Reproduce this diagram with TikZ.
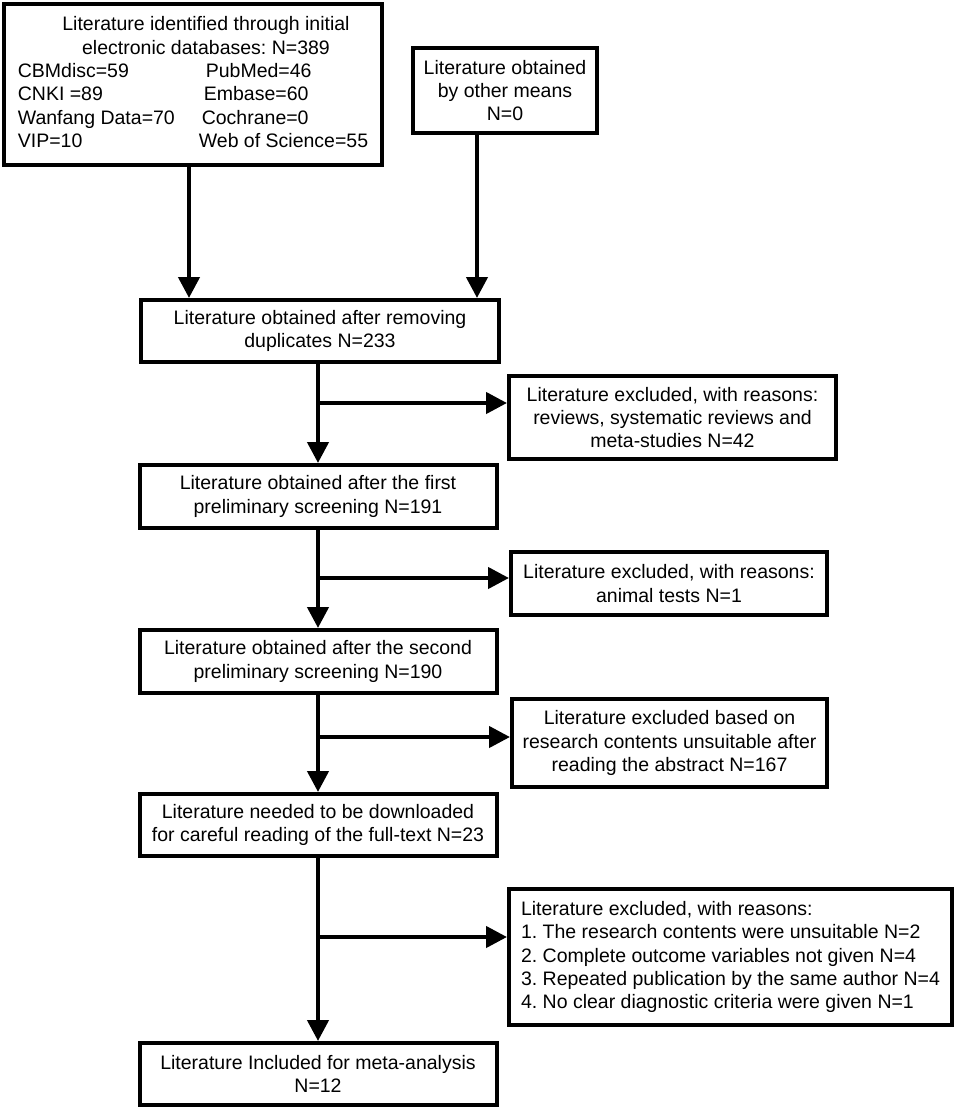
\documentclass[tikz,border=0pt]{standalone}
\usepackage{fontspec}
\setmainfont{Liberation Sans}
\usetikzlibrary{arrows.meta}
\frenchspacing
\begin{document}
\begin{tikzpicture}[x=1pt,y=-1pt,>={Triangle[length=21pt,width=21pt]},
  every node/.style={font=\fontsize{19.5}{23.3}\selectfont},
  box/.style={draw,line width=4pt,inner sep=0pt,align=center},
  arr/.style={->,line width=4.3pt}]
 \useasboundingbox (0,0) rectangle (957,1111);
 % sources
 \node[box,minimum width=378pt,minimum height=161pt] (db) at (193,84.5) {%
   \begin{tabular}{@{}p{181pt}@{}l@{}}
   \multicolumn{2}{@{}c@{}}{\hspace*{26pt}Literature identified through initial}\\
   \multicolumn{2}{@{}c@{}}{\hspace*{26pt}electronic databases: N=389}\\
   CBMdisc=59 & \hspace*{7pt}PubMed=46\\
   CNKI =89 & \hspace*{5pt}Embase=60\\
   Wanfang Data=70 & \hspace*{3pt}Cochrane=0\\
   VIP=10 & Web of Science=55
   \end{tabular}};
 \node[box,minimum width=184pt,minimum height=85pt] (other) at (505,90.5) {Literature obtained\\by other means\\N=0};
 % main column
 \node[box,minimum width=358pt,minimum height=62pt] (dup) at (320,331) {Literature obtained after removing\\duplicates N=233};
 \node[box,minimum width=357pt,minimum height=63pt] (scr1) at (318,496.5) {Literature obtained after the first\\preliminary screening N=191};
 \node[box,minimum width=357pt,minimum height=63pt] (scr2) at (318,661.5) {Literature obtained after the second\\preliminary screening N=190};
 \node[box,minimum width=357pt,minimum height=62pt] (full) at (318,825) {Literature needed to be downloaded\\for careful reading of the full-text N=23};
 \node[box,minimum width=357pt,minimum height=62pt] (incl) at (318,1074) {Literature Included for meta-analysis\\N=12};
 % exclusions
 \node[box,minimum width=327pt,minimum height=83pt] (ex1) at (672.5,417.5) {Literature excluded, with reasons:\\reviews, systematic reviews and\\meta-studies N=42};
 \node[box,minimum width=316pt,minimum height=63pt] (ex2) at (669,583.5) {Literature excluded, with reasons:\\animal tests N=1};
 \node[box,minimum width=315pt,minimum height=88pt] (ex3) at (669.5,743) {Literature excluded based on\\research contents unsuitable after\\reading the abstract N=167};
 \node[box,align=left,minimum width=443pt,minimum height=136pt] (ex4) at (730.5,957) {Literature excluded, with reasons:\\1. The research contents were unsuitable N=2\\2. Complete outcome variables not given N=4\\3. Repeated publication by the same author N=4\\4. No clear diagnostic criteria were given N=1};
 % arrows
 \coordinate (d1) at (189,0);
 \coordinate (o1) at (477,0);
 \draw[arr] (db.south -| d1) -- (d1 |- dup.north);
 \draw[arr] (other.south -| o1) -- (o1 |- dup.north);
 \foreach \a/\b in {dup/scr1,scr1/scr2,scr2/full,full/incl}
   \draw[arr] (\a.south -| \b.north) -- (\b.north);
 \foreach \i/\y in {1/403,2/578,3/737,4/937}{
   \coordinate (b\i) at (318,\y);
   \draw[arr] (b\i) -- (b\i -| ex\i.west);}
\end{tikzpicture}
\end{document}
